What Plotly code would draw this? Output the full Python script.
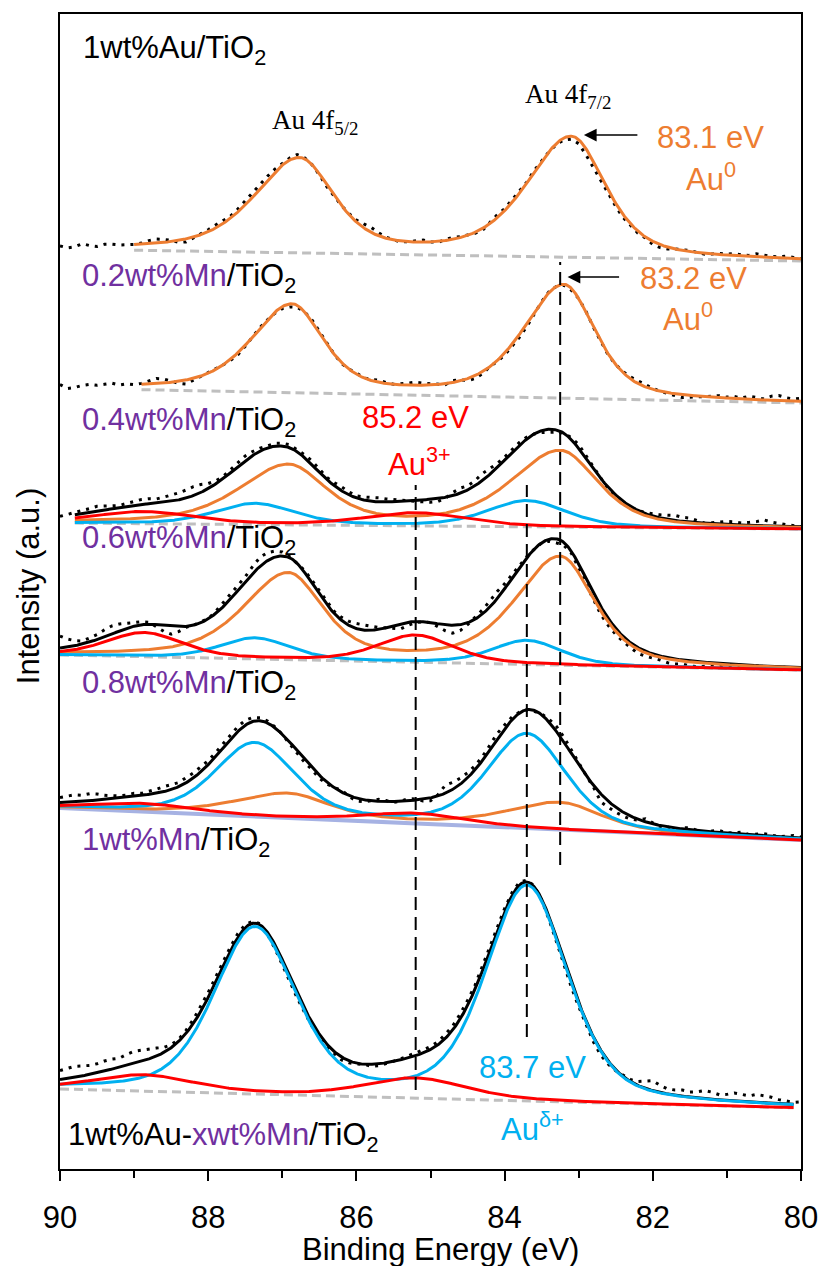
import numpy as np
import plotly.graph_objects as go

# ---------------------------------------------------------------- data
SAMPLE_MN = ["", "0.2wt%Mn", "0.4wt%Mn", "0.6wt%Mn", "0.8wt%Mn", "1wt%Mn"]

SPLIT = 3.67          # Au 4f5/2 - 4f7/2 spin-orbit splitting (eV)

# metallic Au0 doublet
AU0_POS = [83.1, 83.2, 83.25, 83.25, 83.25, 83.25]
AU0_H72 = [120, 113, 76, 108, 27, 0]
AU0_H52 = [93, 87, 59, 85, 24, 0]
AU0_FWHM = [1.1, 1.0, 1.2, 1.1, 1.3, 1.2]

# Au(delta+) doublet
AUD_POS = [83.7, 83.7, 83.7, 83.7, 83.7, 83.7]
AUD_H72 = [0, 0, 26, 24, 94, 214]
AUD_H52 = [0, 0, 21, 21, 73, 165]
AUD_FWHM = [1.25, 1.25, 1.25, 1.1, 1.25, 1.3]

# Au3+ doublet
AU3_POS = [85.2, 85.2, 85.2, 85.2, 85.2, 85.2]
AU3_H72 = [0, 0, 13, 27, 10, 20]
AU3_H52 = [0, 0, 12, 24, 8, 16]
AU3_FWHM = [1.6, 1.6, 1.6, 1.2, 1.6, 1.6]

# linear background (stacked offset included) at 90 eV and at 80 eV
BG_HIGH = [920, 781, 646, 514, 361, 80]
BG_LOW = [908, 766, 640, 499, 329, 61]

# fitted range of each spectrum (eV)
FIT_START = [89.0, 88.9, 89.8, 90.0, 90.0, 90.0]
FIT_END = [80.0, 80.0, 80.0, 80.0, 80.0, 80.1]

# measured counts minus fit envelope, 90.0 -> 80.0 eV in 0.1 eV steps
RESID = [
    [0, -2, -1, 2, 0, -1, 1, 1, 0, 0, 0,
     1, 3, 4, 3, 1, -2, -3, -1, 1, 2,
     3, 3, 2, 3, 4, 5, 5, 4, 3, 2,
     2, 3, 1, 0, -1, -2, -1, 0, 1, 2,
     4, 5, 3, 1, 0, -1, 0, 1, 2, 0,
     -1, 1, 2, 1, 0, -1, -2, 1, 3, 2,
     3, 2, 1, 2, 1, 0, -1, -2, -3, -4,
     -6, -6, -5, -4, -3, -3, -2, -2, -1, -3,
     -3, -2, 0, 1, 1, 0, -1, 0, 1, 1,
     2, 1, 1, 3, 2, 1, 1, 2, 1, 0],
    [1, -3, -2, 0, 1, 0, 1, 2, 0, 1, 0,
     1, 3, 5, 4, 1, -2, -4, -2, 0, 1,
     1, 0, -1, -2, -1, 0, 1, 0, -1, -2,
     -3, -2, 0, 2, 2, 1, 0, -1, 0, 1,
     0, 1, 2, 1, 0, 1, 2, 3, 2, 1,
     0, -1, 2, 1, -2, -3, -2, 0, -1, -2,
     -2, -3, -3, -2, 0, 1, 0, -1, -2, 0,
     1, 0, 0, -1, 0, 1, 2, 3, 2, 1,
     0, -1, -2, -3, -2, -1, 0, 1, 2, 1,
     2, 1, 3, 2, 1, 4, 5, 3, 2, 3],
    [0, 1, 2, 3, 4, 5, 4, 3, 2, 3, 4,
     5, 5, 4, 5, 6, 7, 8, 9, 8, 5,
     3, 2, 3, 4, 5, 4, 3, 2, 3, 3,
     3, 2, 3, 4, 3, 2, 3, 4, 3, 2,
     3, 4, 4, 3, 2, 1, 0, -1, -2, -3,
     -3, -1, 3, 5, 4, 5, 7, 6, 4, 3,
     3, 3, 2, 0, -2, -3, -2, 0, 2, 4,
     3, 2, 0, -2, -3, -3, -1, 0, 1, 2,
     3, 4, 5, 4, 4, 2, 0, 1, 2, 3,
     3, 2, 3, 4, 6, 4, 3, 2, 1, 0],
    [12, 8, 5, 3, 4, 5, 7, 8, 7, 5, 3,
     3, 2, -2, -6, -8, -5, -1, 0, 1, 0,
     2, 4, 5, 6, 5, 7, 9, 8, 6, 4,
     1, 0, 2, 3, 4, 3, 2, 3, 4, 5,
     5, 4, 2, 0, -3, -5, -3, -1, 0, 0,
     -3, -6, -8, -6, -2, 2, 4, 6, 7, 5,
     3, 2, 1, 0, 0, -2, -4, -3, -2, -4,
     -6, -7, -8, -7, -6, -5, -5, -6, -5, -4,
     -4, -5, -5, -4, -5, -5, -4, -3, -3, -2,
     -2, -1, -1, 0, -1, -2, -1, 0, -1, -1],
    [5, 6, 7, 6, 7, 6, 4, 3, 2, 2, 3,
     2, 3, 4, 5, 5, 4, 5, 5, 5, 4,
     4, 4, 5, 5, 5, 4, 3, 2, 1, 0,
     -2, -3, -3, -2, -3, -2, 0, 2, -1, -3,
     -2, 0, 2, 1, -1, 0, 2, 1, -2, -3,
     1, 8, 7, 6, 5, 4, 4, 5, 6, 4,
     3, 1, 0, -1, 1, 3, 5, 5, 3, 1,
     0, -2, -8, -6, -5, -4, -3, -1, 3, 1,
     -1, 0, -2, 1, 2, 0, -1, 1, 2, 0,
     1, 2, 0, 1, 2, 1, 0, 1, 2, 1],
    [9, 10, 11, 10, 9, 9, 10, 10, 9, 11, 12,
     11, 10, 8, 5, 3, 2, 3, 4, 5, 5,
     5, 5, 4, 4, 3, 2, 1, -2, -4, -5,
     -5, -5, -4, -4, -3, -3, -2, -3, -2, -1,
     0, -2, -2, -1, 0, 1, 2, 2, 3, 3,
     3, 4, 4, 5, 5, 4, 4, 4, 3, 3,
     3, 3, 2, 1, -1, -3, -4, -5, -5, -4,
     -4, -5, -5, -3, -1, 1, 2, 4, 7, 10,
     7, 5, 5, 6, 5, 6, 8, 7, 5, 6,
     8, 7, 6, 8, 7, 6, 4, 3, 2, 3],
]

# reference markers: energy, lower and upper intensity extent
VLINE_E = [85.2, 83.7, 83.25]
VLINE_Y0 = [79, 132, 304]
VLINE_Y1 = [684, 684, 907]

# ---------------------------------------------------------------- style
ORANGE = "#ED7D31"
CYAN = "#00B0F0"
RED = "#FF0000"
PURPLE = "#7030A0"
GREY = "#BFBFBF"
LAVENDER = "#A6B2E3"
SANS = "Liberation Sans, Arial, sans-serif"
SERIF = "Liberation Serif, Times New Roman, serif"
FS = 31

ETA = {"au0": 0.55, "aud": 0.4, "au3": 0.4}
ASYM = {"au0": 1.3, "aud": 1.0, "au3": 1.0}


def pseudo_voigt(e, centre, height, fwhm, eta, asym):
    w = np.where(e > centre, fwhm * asym, fwhm)
    x = (e - centre) / w
    return height * (eta / (1 + 4 * x ** 2) + (1 - eta) * np.exp(-4 * np.log(2) * x ** 2))


def background(i, e):
    return BG_LOW[i] + (BG_HIGH[i] - BG_LOW[i]) * (e - 80.0) / 10.0


def component(i, kind, e):
    pos, h72, h52, fw = {
        "au0": (AU0_POS, AU0_H72, AU0_H52, AU0_FWHM),
        "aud": (AUD_POS, AUD_H72, AUD_H52, AUD_FWHM),
        "au3": (AU3_POS, AU3_H72, AU3_H52, AU3_FWHM),
    }[kind]
    return (pseudo_voigt(e, pos[i], h72[i], fw[i], ETA[kind], ASYM[kind])
            + pseudo_voigt(e, pos[i] + SPLIT, h52[i], fw[i], ETA[kind], ASYM[kind]))


e_fine = np.linspace(90.0, 80.0, 1001)
e_meas = np.round(np.linspace(90.0, 80.0, 101), 2)

fig = go.Figure()
line_w = 3

for i in range(6):
    kinds = [k for k, h in (("au0", AU0_H72), ("aud", AUD_H72), ("au3", AU3_H72)) if h[i] > 0]
    mask = (e_fine <= FIT_START[i] + 1e-9) & (e_fine >= FIT_END[i] - 1e-9)
    e = e_fine[mask]
    bg = background(i, e)
    comps = {k: component(i, k, e) for k in kinds}
    envelope = bg + sum(comps.values())

    # background
    if i == 4:
        fig.add_trace(go.Scatter(x=e, y=bg, mode="lines",
                                 line=dict(color=LAVENDER, width=4)))
    else:
        fig.add_trace(go.Scatter(x=e, y=bg, mode="lines",
                                 line=dict(color=GREY, width=line_w, dash="9px,5px")))

    # measured spectrum
    env_meas = background(i, e_meas) + sum(component(i, k, e_meas) for k in kinds)
    meas = env_meas + np.array(RESID[i], dtype=float)
    fig.add_trace(go.Scatter(x=e_meas, y=meas, mode="lines",
                             line=dict(color="black", width=3, dash="3px,6px")))

    # fit envelope and components
    if len(kinds) > 1:
        fig.add_trace(go.Scatter(x=e, y=envelope, mode="lines",
                                 line=dict(color="black", width=line_w)))
    colours = {"au0": ORANGE, "aud": CYAN, "au3": RED}
    for k in ("au0", "aud", "au3"):
        if k in comps:
            fig.add_trace(go.Scatter(x=e, y=bg + comps[k], mode="lines",
                                     line=dict(color=colours[k], width=line_w)))

# vertical reference lines
for xe, y0, y1 in zip(VLINE_E, VLINE_Y0, VLINE_Y1):
    fig.add_shape(type="line", xref="x", yref="y", x0=xe, x1=xe, y0=y0, y1=y1,
                  line=dict(color="black", width=2, dash="13px,7px"))

ann = []


def label(x, y, text, size=FS, color="black", family=SANS, xanchor="center"):
    ann.append(dict(x=x, y=y, xref="x", yref="y", text=text, showarrow=False,
                    xanchor=xanchor, yanchor="middle",
                    font=dict(size=size, color=color, family=family)))


# sample names
label(89.71, 1119, "1wt%Au/TiO<sub>2</sub>", xanchor="left")
SAMPLE_Y = [None, 891, 747, 629, 484, 327]
for i in range(1, 6):
    label(89.73, SAMPLE_Y[i],
          f"<span style='color:{PURPLE}'>{SAMPLE_MN[i]}</span>/TiO<sub>2</sub>",
          xanchor="left")
label(89.92, 32, f"1wt%Au-<span style='color:{PURPLE}'>xwt%Mn</span>/TiO<sub>2</sub>",
      xanchor="left")

# peak annotations
label(86.56, 1047, "Au 4f<sub>5/2</sub>", size=27, family=SERIF)
label(83.14, 1073, "Au 4f<sub>7/2</sub>", size=27, family=SERIF)
label(81.22, 1032, "83.1 eV", color=ORANGE)
label(81.21, 992, "Au<sup>0</sup>", color=ORANGE)
label(81.45, 891, "83.2 eV", color=ORANGE)
label(81.53, 852, "Au<sup>0</sup>", color=ORANGE)
label(85.2, 752, "85.2 eV", color=RED)
label(85.15, 707, "Au<sup>3+</sup>", color=RED)
label(83.62, 102, "83.7 eV", color=CYAN)
label(83.62, 42, "Au<sup>δ+</sup>", color=CYAN)

# arrows pointing at the Au0 4f7/2 maxima
for xe, y, tail in ((82.93, 1034, 55), (83.15, 892, 53)):
    ann.append(dict(x=xe, y=y, xref="x", yref="y", ax=tail, ay=0, text="",
                    showarrow=True, arrowhead=2, arrowsize=1.7, arrowwidth=1.5,
                    arrowcolor="black"))

# axis titles
ann.append(dict(x=-0.0426, y=0.505, xref="paper", yref="paper", text="Intensity (a.u.)",
                textangle=-90, showarrow=False, xanchor="center", yanchor="middle",
                font=dict(size=FS, family=SANS, color="black")))
ann.append(dict(x=0.513, y=-0.070, xref="paper", yref="paper", text="Binding Energy (eV)",
                showarrow=False, xanchor="center", yanchor="middle",
                font=dict(size=FS, family=SANS, color="black")))

fig.update_layout(
    width=830, height=1266,
    margin=dict(l=60, r=18, t=14, b=97),
    paper_bgcolor="white", plot_bgcolor="white",
    showlegend=False,
    annotations=ann,
    xaxis=dict(range=[90, 80], tick0=80, dtick=2, ticks="outside", ticklen=10,
               tickwidth=2, tickcolor="black", showline=True, linecolor="black",
               linewidth=2, mirror=True, showgrid=False, zeroline=False,
               ticklabelstandoff=10,
               tickfont=dict(size=FS, family=SANS, color="black"),
               minor=dict(dtick=1, tick0=80, ticks="outside", ticklen=7,
                          tickwidth=2, tickcolor="black")),
    yaxis=dict(range=[0, 1155], showticklabels=False, ticks="", showline=True,
               linecolor="black", linewidth=2, mirror=True, showgrid=False,
               zeroline=False),
)

fig.write_html("out.html")
